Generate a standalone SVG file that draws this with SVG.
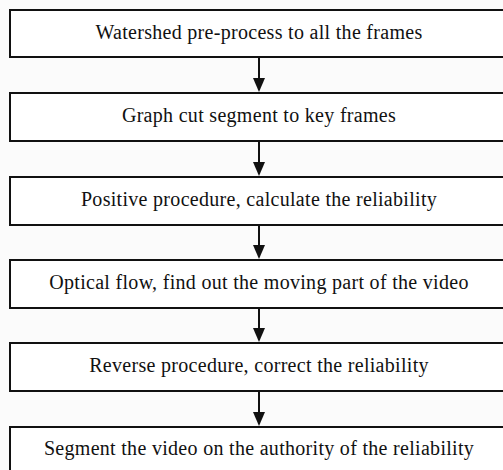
<svg xmlns="http://www.w3.org/2000/svg" width="503" height="470" viewBox="0 0 503 470">
<defs>
<style>
.box{fill:#ffffff;stroke:#111;stroke-width:2}
.lbl{font-family:"Liberation Serif","Times New Roman",serif;font-size:20px;letter-spacing:0.3px;fill:#111;text-anchor:middle}
.conn{stroke:#111;stroke-width:2;fill:none}
.head{fill:#111}
</style>
</defs>
<rect width="503" height="470" fill="#fbfbfb"/>
<g id="n1"><rect class="box" x="10" y="10" width="498" height="47"/><text class="lbl" x="259" y="39">Watershed pre-process to all the frames</text></g>
<g id="n2"><rect class="box" x="10" y="93" width="498" height="48"/><text class="lbl" x="259" y="122">Graph cut segment to key frames</text></g>
<g id="n3"><rect class="box" x="10" y="177" width="498" height="48"/><text class="lbl" x="259" y="206">Positive procedure, calculate the reliability</text></g>
<g id="n4"><rect class="box" x="10" y="260" width="498" height="48"/><text class="lbl" x="259" y="289">Optical flow, find out the moving part of the video</text></g>
<g id="n5"><rect class="box" x="10" y="343" width="498" height="48"/><text class="lbl" x="259" y="372">Reverse procedure, correct the reliability</text></g>
<g id="n6"><rect class="box" x="10" y="427" width="498" height="48"/><text class="lbl" x="259" y="455">Segment the video on the authority of the reliability</text></g>
<g id="connectors">
<path class="conn" d="M259,58 V80" /><path class="head" d="M253,78 L265,78 L259,92 Z"/>
<path class="conn" d="M259,142 V164" /><path class="head" d="M253,162 L265,162 L259,176 Z"/>
<path class="conn" d="M259,226 V247" /><path class="head" d="M253,245 L265,245 L259,259 Z"/>
<path class="conn" d="M259,309 V330" /><path class="head" d="M253,328 L265,328 L259,342 Z"/>
<path class="conn" d="M259,392 V414" /><path class="head" d="M253,412 L265,412 L259,426 Z"/>
</g>
</svg>
